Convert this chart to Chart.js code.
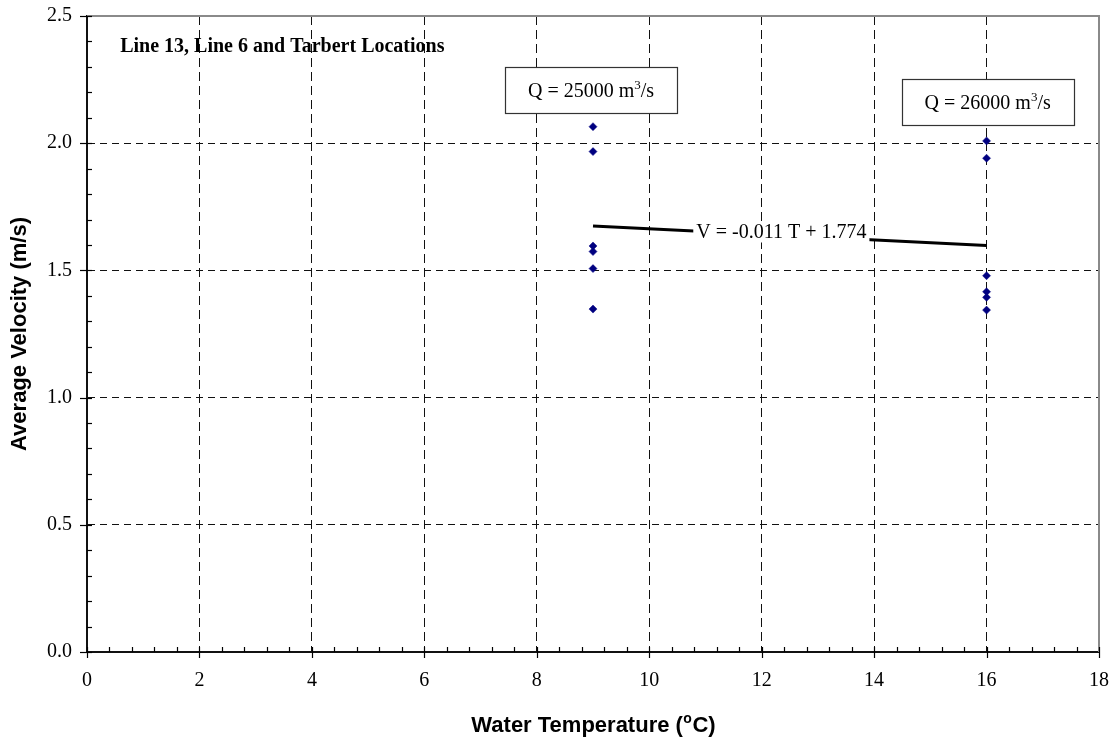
<!DOCTYPE html>
<html><head><meta charset="utf-8">
<script src="https://cdn.jsdelivr.net/npm/chart.js@4"></script>
<style>html,body{margin:0;padding:0;background:#fff}</style>
</head>
<body>
<canvas id="c" width="1118" height="740"></canvas>
<script>
// ---- data ----
const temp25 = [9, 9, 9, 9, 9, 9];
const vel25  = [2.065, 1.967, 1.596, 1.574, 1.507, 1.348];
const temp26 = [16, 16, 16, 16, 16, 16];
const vel26  = [2.009, 1.941, 1.479, 1.416, 1.394, 1.344];
const trendT = [9, 16];
const trendV = [1.675, 1.598];
const xTickValues = [0, 2, 4, 6, 8, 10, 12, 14, 16, 18];
const yTickValues = [0.0, 0.5, 1.0, 1.5, 2.0, 2.5];
const titleText = 'Line 13, Line 6 and Tarbert Locations';
const trendText = 'V = -0.011 T + 1.774';
const flowLabels = ['25000', '26000'];
const xTitleParts = ['Water Temperature (', 'o', 'C)'];
const yTitleText = 'Average Velocity (m/s)';

const SERIF = '"Liberation Serif", "Times New Roman", serif';
const SANS = '"Liberation Sans", Arial, sans-serif';

// label anchors in data space
const anchors = {
  title: {x: 0.59, y: 2.379},
  trend: {x: 12.35, y: 1.649},
  q25: {x: 8.966, y: 2.210},
  q26: {x: 16.02, y: 2.163}
};

function toPts(xs, ys) { return xs.map((x, i) => ({x: x, y: ys[i]})); }
function noPad(s) { s.paddingLeft = 0; s.paddingRight = 0; s.paddingTop = 0; s.paddingBottom = 0; }

const decor = {
  id: 'decor',
  beforeDatasetsDraw(chart) {
    const ctx = chart.ctx, a = chart.chartArea;
    const xs = chart.scales.x, ys = chart.scales.y;
    ctx.save();
    // grey top/right frame
    ctx.strokeStyle = '#8a8a8a'; ctx.lineWidth = 2;
    ctx.beginPath();
    ctx.moveTo(a.left, a.top); ctx.lineTo(a.right, a.top); ctx.lineTo(a.right, a.bottom);
    ctx.stroke();
    // tick marks (major + minor)
    ctx.strokeStyle = '#000'; ctx.lineWidth = 1.2;
    const nx = Math.round((xs.max - xs.min) / 0.4);
    for (let i = 0; i <= nx; i++) {
      const v = xs.min + i * 0.4;
      const px = Math.round(xs.getPixelForValue(v)) + 0.5;
      const major = i % 5 === 0;
      ctx.beginPath();
      ctx.moveTo(px, a.bottom + (major ? 6 : 0));
      ctx.lineTo(px, a.bottom - 5);
      ctx.stroke();
    }
    const ny = Math.round((ys.max - ys.min) / 0.1);
    for (let i = 0; i <= ny; i++) {
      const v = ys.min + i * 0.1;
      const py = Math.round(ys.getPixelForValue(v)) + 0.5;
      const major = i % 5 === 0;
      ctx.beginPath();
      ctx.moveTo(a.left - (major ? 7 : 0), py);
      ctx.lineTo(a.left + 5, py);
      ctx.stroke();
    }
    ctx.restore();
  },
  afterDatasetsDraw(chart) {
    const ctx = chart.ctx, a = chart.chartArea;
    const xs = chart.scales.x, ys = chart.scales.y;
    const P = (an) => [xs.getPixelForValue(an.x), ys.getPixelForValue(an.y)];
    ctx.save();
    // title
    let [tx, ty] = P(anchors.title);
    ctx.fillStyle = '#000';
    ctx.font = 'bold 20px ' + SERIF;
    ctx.textAlign = 'left'; ctx.textBaseline = 'middle';
    ctx.fillText(titleText, tx, ty);
    // trend label with white background
    let [lx, ly] = P(anchors.trend);
    ctx.font = '20px ' + SERIF;
    const w = ctx.measureText(trendText).width;
    ctx.fillStyle = '#fff';
    ctx.fillRect(lx - w / 2 - 3, ly - 10, w + 6, 20);
    ctx.fillStyle = '#000';
    ctx.textAlign = 'center';
    ctx.fillText(trendText, lx, ly);
    // Q boxes
    const drawQ = (an, num) => {
      const [cx, cy] = P(an);
      const big = '20px ' + SERIF, small = '13px ' + SERIF;
      const p1 = 'Q = ' + num + ' m', p2 = '3', p3 = '/s';
      ctx.font = big; const w1 = ctx.measureText(p1).width, w3 = ctx.measureText(p3).width;
      ctx.font = small; const w2 = ctx.measureText(p2).width;
      const tot = w1 + w2 + w3;
      const x0 = cx - tot / 2;
      const bx = Math.round(x0 - 23) + 0.5, by = Math.round(cy - 23) + 0.5;
      ctx.fillStyle = '#fff';
      ctx.fillRect(bx, by, Math.round(tot + 46), 46);
      ctx.strokeStyle = '#333'; ctx.lineWidth = 1.2;
      ctx.strokeRect(bx, by, Math.round(tot + 46), 46);
      ctx.fillStyle = '#000';
      ctx.textAlign = 'left'; ctx.textBaseline = 'alphabetic';
      ctx.font = big; ctx.fillText(p1, x0, cy + 7);
      ctx.font = small; ctx.fillText(p2, x0 + w1, cy - 1);
      ctx.font = big; ctx.fillText(p3, x0 + w1 + w2, cy + 7);
    };
    drawQ(anchors.q25, flowLabels[0]);
    drawQ(anchors.q26, flowLabels[1]);
    // x-axis title with superscript "o"
    const bigB = 'bold 22px ' + SANS, smallB = 'bold 14px ' + SANS;
    ctx.font = bigB; const t1 = ctx.measureText(xTitleParts[0]).width, t3 = ctx.measureText(xTitleParts[2]).width;
    ctx.font = smallB; const t2 = ctx.measureText(xTitleParts[1]).width;
    const tw = t1 + t2 + t3;
    const cxT = (a.left + a.right) / 2 - tw / 2;
    const base = 732;
    ctx.font = bigB; ctx.fillText(xTitleParts[0], cxT, base);
    ctx.font = smallB; ctx.fillText(xTitleParts[1], cxT + t1 + 0.5, base - 9);
    ctx.font = bigB; ctx.fillText(xTitleParts[2], cxT + t1 + t2 + 1, base);
    ctx.restore();
  }
};

new Chart(document.getElementById('c'), {
  type: 'scatter',
  data: {
    datasets: [
      {
        label: 'Q = 25000',
        data: toPts(temp25, vel25),
        pointStyle: 'rectRot', radius: 4, borderWidth: 0.5,
        backgroundColor: '#000080', borderColor: '#000080'
      },
      {
        label: 'Q = 26000',
        data: toPts(temp26, vel26),
        pointStyle: 'rectRot', radius: 4, borderWidth: 0.5,
        backgroundColor: '#000080', borderColor: '#000080'
      },
      {
        label: 'trend',
        type: 'line',
        data: toPts(trendT, trendV),
        showLine: true, borderColor: '#000', borderWidth: 3,
        pointRadius: 0, fill: false
      }
    ]
  },
  options: {
    responsive: false,
    animation: false,
    layout: {padding: {left: 0, right: 19, top: 16, bottom: 0}},
    plugins: {legend: {display: false}, tooltip: {enabled: false}},
    scales: {
      x: {
        type: 'linear', min: 0, max: 18,
        afterBuildTicks: (s) => { s.ticks = xTickValues.map(v => ({value: v})); },
        afterFit: (s) => { s.height = 88; noPad(s); },
        grid: {
          drawTicks: false, lineWidth: 1,
          color: (c) => (c.tick && (c.tick.value === 18 || c.tick.value === 0)) ? 'rgba(0,0,0,0)' : '#111'
        },
        border: {display: true, color: '#111', width: 2, dash: [9, 5]},
        ticks: {
          padding: 17, color: '#000', font: {family: SERIF, size: 20},
          callback: (v) => String(v), maxRotation: 0, autoSkip: false
        },
        title: {display: false}
      },
      y: {
        type: 'linear', min: 0, max: 2.5,
        afterBuildTicks: (s) => { s.ticks = yTickValues.map(v => ({value: v})); },
        afterFit: (s) => { s.width = 87; noPad(s); },
        grid: {
          drawTicks: false, lineWidth: 1,
          color: (c) => (c.tick && (c.tick.value === 2.5 || c.tick.value === 0)) ? 'rgba(0,0,0,0)' : '#111'
        },
        border: {display: true, color: '#111', width: 2, dash: [7, 5]},
        ticks: {
          padding: 15, color: '#000', font: {family: SERIF, size: 20},
          callback: (v) => Number(v).toFixed(1), autoSkip: false
        },
        title: {
          display: true, text: yTitleText, color: '#000',
          font: {family: SANS, size: 22, weight: 'bold'},
          padding: {top: 7, bottom: 0}
        }
      }
    }
  },
  plugins: [decor]
});
</script>
</body></html>
